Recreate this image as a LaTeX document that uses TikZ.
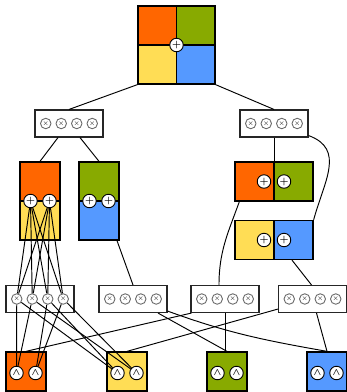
\documentclass[tikz,border=0pt]{standalone}
\usepackage{amsmath,amssymb}
\usepackage{tikz}
\usetikzlibrary{positioning,calc}
\definecolor{spnOrange}{HTML}{FF6600}
\definecolor{spnGreen}{HTML}{88AA00}
\definecolor{spnYellow}{HTML}{FFDD55}
\definecolor{spnBlue}{HTML}{5599FF}
\definecolor{spnGrey}{HTML}{6A6A6A}

\tikzset{
  region/.style={draw=black,line width=1.3pt,inner sep=0pt},
  vsplit/.style 2 args={region,minimum width=40pt,minimum height=78pt,
    path picture={
      \fill[#1] (path picture bounding box.north west) rectangle (path picture bounding box.east);
      \fill[#2] (path picture bounding box.west) rectangle (path picture bounding box.south east);
      \draw[line width=1.3pt] (path picture bounding box.west) -- (path picture bounding box.east);}},
  hsplit/.style 2 args={region,minimum width=78pt,minimum height=39pt,
    path picture={
      \fill[#1] (path picture bounding box.north west) rectangle (path picture bounding box.south);
      \fill[#2] (path picture bounding box.north) rectangle (path picture bounding box.south east);
      \draw[line width=1.3pt] (path picture bounding box.north) -- (path picture bounding box.south);}},
  quad/.style={region,minimum width=77pt,minimum height=78pt,
    path picture={
      \fill[spnOrange] (path picture bounding box.north west) rectangle (path picture bounding box.center);
      \fill[spnGreen] (path picture bounding box.north) rectangle (path picture bounding box.east);
      \fill[spnYellow] (path picture bounding box.west) rectangle (path picture bounding box.south);
      \fill[spnBlue] (path picture bounding box.center) rectangle (path picture bounding box.south east);
      \draw[line width=1.3pt] (path picture bounding box.west) -- (path picture bounding box.east)
        (path picture bounding box.north) -- (path picture bounding box.south);}},
  leafbox/.style={region,fill=#1,minimum width=40pt,minimum height=39pt},
  prodbox/.style={draw=black!85,line width=1.1pt,fill=white,minimum width=68pt,minimum height=27pt,inner sep=0pt},
  prodnode/.style={circle,draw=spnGrey,line width=0.9pt,fill=white,minimum size=10.5pt,inner sep=0pt,font=\scriptsize},
  sumnode/.style={circle,draw=black,line width=0.9pt,fill=white,minimum size=13.5pt,inner sep=0pt,font=\normalsize\boldmath},
  leafnode/.style={circle,draw=black,line width=0.9pt,fill=white,minimum size=13.5pt,inner sep=0pt,font=\normalsize\boldmath},
  edge/.style={draw=black,line width=0.95pt},
}

\begin{document}
\begin{tikzpicture}[x=1pt,y=1pt]
  \useasboundingbox (0,0) rectangle (347,-392);

  % regions
  \node[quad] (root) at (176.5,-45) {};
  \node[sumnode] (rootsum) at (root.center) {$+$};

  \node[vsplit={spnOrange}{spnYellow}] (oy) at (40,-201) {};
  \node[vsplit={spnGreen}{spnBlue}] (gb) at (99,-201) {};
  \node[hsplit={spnOrange}{spnGreen}] (og) at (274,-181.5) {};
  \node[hsplit={spnYellow}{spnBlue}] (yb) at (274,-240) {};
  \foreach \r in {oy,gb}{
    \node[sumnode] (\r1) at ($(\r.center)+(-9.5,0)$) {$+$};
    \node[sumnode] (\r2) at ($(\r.center)+(9.5,0)$) {$+$};
  }
  \foreach \r in {og,yb}{
    \node[sumnode] (\r1) at ($(\r.center)+(-10,0)$) {$+$};
    \node[sumnode] (\r2) at ($(\r.center)+(10,0)$) {$+$};
  }

  % product boxes
  \foreach \b/\x/\y in {lprod/69/-123.5,rprod/274/-123.5,pa/40/-299,pb/133/-299,pc/225/-299,pd/312.5/-299}{
    \node[prodbox] (\b) at (\x,\y) {};
    \foreach \i/\dx in {1/-23.25,2/-7.75,3/7.75,4/23.25}
      \node[prodnode] (\b\i) at ($(\b.center)+(\dx,0)$) {$\times$};
  }

  % leaves
  \foreach \l/\c/\x in {lo/spnOrange/26,ly/spnYellow/127,lg/spnGreen/227,lb/spnBlue/327}{
    \node[leafbox=\c] (\l) at (\x,-371.5) {};
    \node[leafnode] (\l1) at ($(\l.center)+(-9.5,-1.5)$) {$\wedge$};
    \node[leafnode] (\l2) at ($(\l.center)+(9.5,-1.5)$) {$\wedge$};
  }

  % region connectors
  \draw[edge] (root.south west) -- (lprod.north);
  \draw[edge] (root.south east) -- (rprod.north);
  \draw[edge] ($(lprod.south)+(-11,0)$) -- (oy.north);
  \draw[edge] ($(lprod.south)+(11,0)$) -- (gb.north);
  \draw[edge] (rprod.south) -- (og.north);
  \draw[edge] ($(rprod.south east)+(0,2)$) to[out=-20,in=75,looseness=1.2] (yb.north east);
  \draw[edge] ($(og.south west)+(5,0)$) to[out=-110,in=90] ($(pc.north)+(-6,0)$);
  \draw[edge] ($(gb.south)+(18,0)$) -- (pb.north);
  \draw[edge] ($(yb.south)+(18,0)$) -- ($(pd.north)+(-1,0)$);

  \draw[edge] ($(pb.south)+(25,0)$) -- (lg.north);
  \draw[edge] ($(pb.south east)+(0,2)$) to[out=-20,in=170] (lb.north);
  \draw[edge] (pc.south) -- (pc.south |- lg.north);
  \draw[edge] ($(pc.south west)+(1,0)$) -- (lo.north);
  \draw[edge] ($(pd.south west)+(0,4)$) -- (ly.north);
  \draw[edge] ($(pd.south)+(4,0)$) -- (lb.north);

  % node connectors of the expanded region
  \foreach \s in {1,2}
    \foreach \p in {1,...,4}
      \draw[edge] (oy\s) -- (pa\p);
  \foreach \p/\o/\y in {1/1/1,2/1/2,3/2/1,4/2/2}{
    \draw[edge] (pa\p) -- (lo\o);
    \draw[edge] (pa\p) -- (ly\y);
  }
\end{tikzpicture}
\end{document}
